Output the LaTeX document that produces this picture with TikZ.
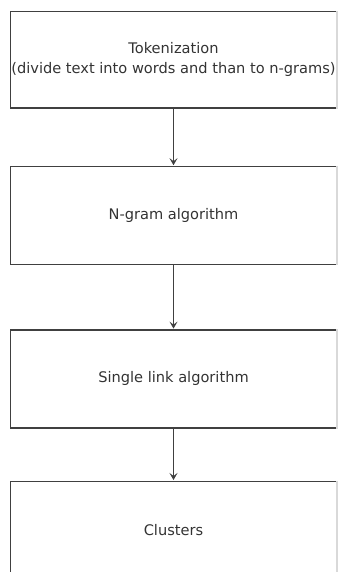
\documentclass[tikz,border=0pt]{standalone}
\usepackage{fontspec}
\setmainfont{DejaVu Sans}
\usetikzlibrary{arrows.meta,positioning}

\begin{document}
\begin{tikzpicture}[->,>={Stealth[length=7pt,width=8pt,inset=3pt]}
	,x=1pt,y=-1pt
	,semithick]
  \tikzstyle{every node}=[text=black!80,font=\fontsize{14.6}{20}\selectfont]
  \tikzstyle{step box}
  =[draw=black!75,line width=1.4pt,rectangle,minimum width=326pt
  ,align=center,inner sep=0pt]

  \useasboundingbox (0,0) rectangle (338,572);

  % the four steps
  \node[step box,minimum height=96.5pt] (tok) at (173.5,59.75)
    {Tokenization\\(divide text into words and than to n-grams)};
  \node[step box,minimum height=98pt,below=57pt of tok] (ngram)
    {N-gram algorithm};
  \node[step box,minimum height=98pt,below=64pt of ngram] (link)
    {Single link algorithm};
  \node[step box,minimum height=98pt,below=52pt of link] (clus)
    {Clusters};

  % light right sides
  \foreach \n in {tok,ngram,link,clus}
    \draw[-,black!15,line width=1.6pt] (\n.north east) -- (\n.south east);

  % arrows
  \draw[black!75,line width=1.2pt,shorten >=0.5pt] (tok) -- (ngram);
  \draw[black!75,line width=1.2pt,shorten >=0.5pt] (ngram) -- (link);
  \draw[black!75,line width=1.2pt,shorten >=0.5pt] (link) -- (clus);
\end{tikzpicture}
\end{document}
